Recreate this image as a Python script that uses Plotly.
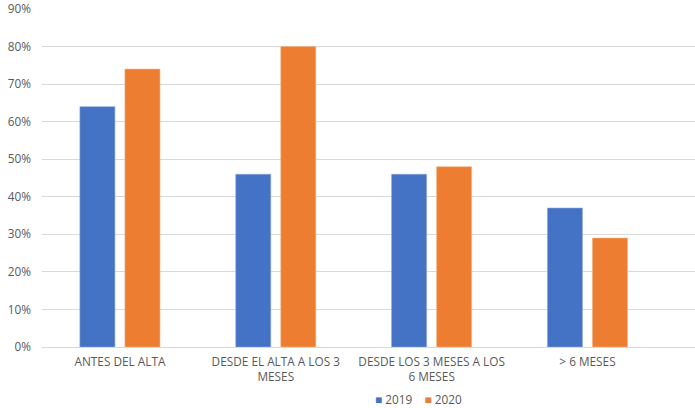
import plotly.graph_objects as go

categories = [
    "ANTES DEL ALTA",
    "DESDE EL ALTA A LOS 3<br>MESES",
    "DESDE LOS 3 MESES A LOS<br>6 MESES",
    "> 6 MESES",
]
values_2019 = [0.64, 0.46, 0.46, 0.37]
values_2020 = [0.74, 0.80, 0.48, 0.29]
y_ticks = [i / 10 for i in range(10)]

BLUE = "#4472C4"
ORANGE = "#ED7D31"
label_font = dict(family="Open Sans, Liberation Sans, sans-serif", size=11.8, color="#595959")

fig = go.Figure()
fig.add_trace(go.Bar(
    name="2019", x=categories, y=values_2019,
    marker=dict(color=BLUE, line=dict(color="#8FAADC", width=0.6)),
))
fig.add_trace(go.Bar(
    name="2020", x=categories, y=values_2020,
    marker=dict(color=ORANGE, line=dict(color="#F4B183", width=0.6)),
))

# compact legend drawn as a text line along the bottom edge
legend_text = (
    f"<span style='color:{BLUE}'>■</span> 2019"
    f"&nbsp;&nbsp;&nbsp;&nbsp;<span style='color:{ORANGE}'>■</span> 2020"
)
fig.add_annotation(
    text=legend_text, xref="paper", yref="paper",
    x=0.576, y=-0.1795, xanchor="center", yanchor="bottom",
    showarrow=False, font=label_font, borderpad=0,
)

fig.update_layout(
    width=695, height=408,
    margin=dict(l=42, r=0, t=9, b=61),
    paper_bgcolor="white", plot_bgcolor="white",
    barmode="group", bargap=0.422, bargroupgap=0.222,
    font=label_font,
    showlegend=False,
    xaxis=dict(
        type="category", range=[-0.5, 3.69], automargin=False,
        showgrid=False, showline=False, ticks="",
        tickfont=label_font, tickangle=0, ticklabelstandoff=6,
    ),
    yaxis=dict(
        range=[0, 0.9], tickvals=y_ticks, tickformat=".0%", automargin=False,
        showgrid=True, gridcolor="#D9D9D9", gridwidth=1,
        zeroline=True, zerolinecolor="#D9D9D9", zerolinewidth=1,
        showline=False, ticks="", ticklabelstandoff=10,
        tickfont=label_font,
    ),
)

fig.write_html("out.html")
